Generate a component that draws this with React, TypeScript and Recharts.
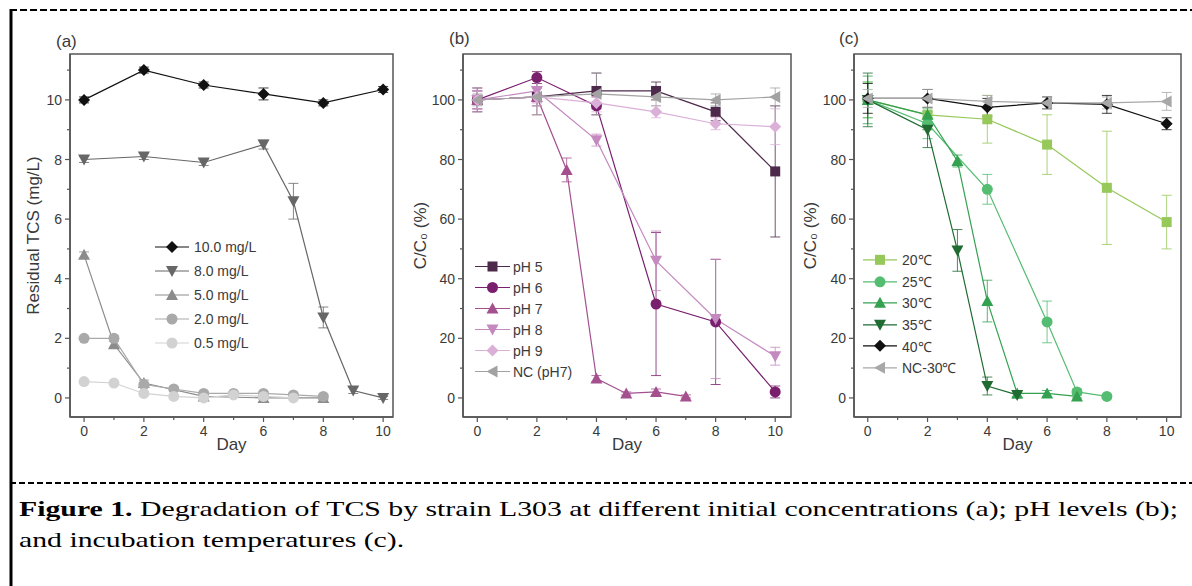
import React from 'react';
import { LineChart, Line, XAxis, YAxis, ErrorBar, ReferenceArea, Legend } from 'recharts';

const AXIS = '#555';
const TEXT = '#3a3a3a';
const SANS = '"Liberation Sans", Arial, sans-serif';

const dayTicks = [0, 1, 2, 3, 4, 5, 6, 7, 8, 9, 10];
const concTicks = [0, 1, 2, 3, 4, 5, 6, 7, 8, 9, 10, 11];
const pctTicks = [0, 10, 20, 30, 40, 50, 60, 70, 80, 90, 100, 110];

// (a) initial concentration
const a10Days = [0, 2, 4, 6, 8, 10];
const a10Vals = [10.0, 11.0, 10.5, 10.2, 9.9, 10.35];
const a10Errs = [0.1, 0.1, 0.1, 0.2, 0.1, 0.1];
const a8Days = [0, 2, 4, 6, 7, 8, 9, 10];
const a8Vals = [8.0, 8.1, 7.9, 8.5, 6.6, 2.7, 0.25, 0.0];
const a8Errs = [0.1, 0.1, 0.1, 0.15, 0.6, 0.35, 0.1, 0.05];
const a5Days = [0, 1, 2, 4, 6, 8];
const a5Vals = [4.8, 1.8, 0.5, 0.05, 0.0, 0.0];
const a5Errs = [0.1, 0.1, 0.1, 0.05, 0.05, 0.05];
const a2Days = [0, 1, 2, 3, 4, 5, 6, 7, 8];
const a2Vals = [2.0, 2.0, 0.45, 0.3, 0.15, 0.15, 0.15, 0.1, 0.05];
const a2Errs = [0.05, 0.1, 0.05, 0.05, 0.05, 0.05, 0.05, 0.05, 0.05];
const a05Days = [0, 1, 2, 3, 4, 5, 6, 7];
const a05Vals = [0.55, 0.5, 0.15, 0.05, 0.0, 0.1, 0.05, 0.0];
const a05Errs = [0.05, 0.05, 0.05, 0.05, 0.05, 0.05, 0.05, 0.05];

// (b) pH
const bDays = [0, 2, 4, 6, 8, 10];
const pH5Vals = [100, 101, 103, 103, 96, 76];
const pH5Errs = [4, 3, 6, 3, 3, 22];
const pH6Vals = [100, 107.5, 98, 31.5, 25.5, 2];
const pH6Errs = [3, 2, 3, 24, 21, 2];
const pH7Days = [0, 2, 3, 4, 5, 6, 7];
const pH7Vals = [100, 101, 76.5, 6.5, 1.5, 2, 0.5];
const pH7Errs = [3, 6, 4, 1, 0.5, 1, 0.5];
const pH8Vals = [100, 103, 86.5, 46, 26.5, 14];
const pH8Errs = [4, 4, 2, 10, 20, 3];
const pH9Vals = [100, 101, 99, 96, 92, 91];
const pH9Errs = [3, 3, 3, 2, 2, 6];
const ncpHVals = [100, 101, 102, 101, 100, 101];
const ncpHErrs = [2, 6, 7, 3, 2, 3];

// (c) temperature
const cDays = [0, 2, 4, 6, 8, 10];
const t20Vals = [100, 95, 93.5, 85, 70.5, 59];
const t20Errs = [6, 5, 8, 10, 19, 9];
const t25Days = [0, 2, 4, 6, 7, 8];
const t25Vals = [100, 92, 70, 25.5, 2, 0.5];
const t25Errs = [6, 5, 5, 7, 1, 0.5];
const t30Days = [0, 2, 3, 4, 5, 6, 7];
const t30Vals = [100, 95, 79.5, 32.5, 1.5, 1.5, 0.5];
const t30Errs = [8, 5, 2, 7, 1, 1, 0.5];
const t35Days = [0, 2, 3, 4, 5];
const t35Vals = [100, 90, 49.5, 4, 1];
const t35Errs = [9, 6, 7, 3, 1];
const t40Vals = [100.5, 100.5, 97.5, 99, 98.5, 92];
const t40Errs = [5, 3, 3, 2, 3, 2];
const ncTVals = [100.5, 100.5, 99.5, 99, 99, 99.5];
const ncTErrs = [3, 3, 2, 2, 2, 3];

type Shape = 'diamond' | 'square' | 'circle' | 'up' | 'down' | 'left';
type Series = { name: string; color: string; shape: Shape; days: number[]; vals: number[]; errs: number[] };

const seriesA: Series[] = [
  { name: '10.0 mg/L', color: '#111', shape: 'diamond', days: a10Days, vals: a10Vals, errs: a10Errs },
  { name: '8.0 mg/L', color: '#676767', shape: 'down', days: a8Days, vals: a8Vals, errs: a8Errs },
  { name: '5.0 mg/L', color: '#8c8c8c', shape: 'up', days: a5Days, vals: a5Vals, errs: a5Errs },
  { name: '2.0 mg/L', color: '#a9a9a9', shape: 'circle', days: a2Days, vals: a2Vals, errs: a2Errs },
  { name: '0.5 mg/L', color: '#d2d2d2', shape: 'circle', days: a05Days, vals: a05Vals, errs: a05Errs },
];

const seriesB: Series[] = [
  { name: 'pH 5', color: '#4d2a4b', shape: 'square', days: bDays, vals: pH5Vals, errs: pH5Errs },
  { name: 'pH 6', color: '#7a1f6e', shape: 'circle', days: bDays, vals: pH6Vals, errs: pH6Errs },
  { name: 'pH 7', color: '#a4508f', shape: 'up', days: pH7Days, vals: pH7Vals, errs: pH7Errs },
  { name: 'pH 8', color: '#c48ac0', shape: 'down', days: bDays, vals: pH8Vals, errs: pH8Errs },
  { name: 'pH 9', color: '#dbb0d8', shape: 'diamond', days: bDays, vals: pH9Vals, errs: pH9Errs },
  { name: 'NC (pH7)', color: '#a2a2a2', shape: 'left', days: bDays, vals: ncpHVals, errs: ncpHErrs },
];

const seriesC: Series[] = [
  { name: '20℃', color: '#96c85a', shape: 'square', days: cDays, vals: t20Vals, errs: t20Errs },
  { name: '25℃', color: '#55bd72', shape: 'circle', days: t25Days, vals: t25Vals, errs: t25Errs },
  { name: '30℃', color: '#33a150', shape: 'up', days: t30Days, vals: t30Vals, errs: t30Errs },
  { name: '35℃', color: '#1f6b32', shape: 'down', days: t35Days, vals: t35Vals, errs: t35Errs },
  { name: '40℃', color: '#111', shape: 'diamond', days: cDays, vals: t40Vals, errs: t40Errs },
  { name: 'NC-30℃', color: '#a8a8a8', shape: 'left', days: cDays, vals: ncTVals, errs: ncTErrs },
];

function Marker({ cx, cy, shape, color }: { cx: number; cy: number; shape: Shape; color: string }) {
  if (cx == null || cy == null || isNaN(cx) || isNaN(cy)) return null;
  const s = 6;
  switch (shape) {
    case 'diamond':
      return <polygon points={`${cx},${cy - s} ${cx + s},${cy} ${cx},${cy + s} ${cx - s},${cy}`} fill={color} />;
    case 'square':
      return <rect x={cx - 5} y={cy - 5} width={10} height={10} fill={color} />;
    case 'circle':
      return <circle cx={cx} cy={cy} r={5.5} fill={color} />;
    case 'up':
      return <polygon points={`${cx},${cy - s} ${cx + s},${cy + 5} ${cx - s},${cy + 5}`} fill={color} />;
    case 'down':
      return <polygon points={`${cx},${cy + s} ${cx + s},${cy - 5} ${cx - s},${cy - 5}`} fill={color} />;
    default:
      return <polygon points={`${cx - s},${cy} ${cx + 5},${cy - s} ${cx + 5},${cy + s}`} fill={color} />;
  }
}

function XTick(props: any) {
  const { x, y, payload } = props;
  const major = payload.value % 2 === 0;
  return (
    <g>
      <line x1={x} x2={x} y1={y} y2={y + (major ? 5 : 3)} stroke={AXIS} strokeWidth={1.2} />
      {major && (
        <text x={x} y={y + 19} textAnchor="middle" fontSize={14} fontFamily={SANS} fill={TEXT}>
          {payload.value}
        </text>
      )}
    </g>
  );
}

function YTick(props: any) {
  const { x, y, payload, step } = props;
  const major = payload.value % step === 0;
  return (
    <g>
      <line x1={x} x2={x - (major ? 5 : 3)} y1={y} y2={y} stroke={AXIS} strokeWidth={1.2} />
      {major && (
        <text x={x - 8} y={y + 5} textAnchor="end" fontSize={14} fontFamily={SANS} fill={TEXT}>
          {payload.value}
        </text>
      )}
    </g>
  );
}

function XLabel(props: any) {
  const { viewBox } = props;
  const cx = viewBox.x + viewBox.width / 2;
  return (
    <text x={cx} y={viewBox.y + 33} textAnchor="middle" fontSize={17} fontFamily={SANS} fill={TEXT}>
      Day
    </text>
  );
}

function YLabel(props: any) {
  const { viewBox, text, off } = props;
  const cx = viewBox.x + viewBox.width - off;
  const cy = viewBox.y + viewBox.height / 2;
  return (
    <text x={cx} y={cy} transform={`rotate(-90 ${cx} ${cy})`} textAnchor="middle" dominantBaseline="central" fontSize={17} fontFamily={SANS} fill={TEXT}>
      {text}
    </text>
  );
}

function LegendBox({ series, rowH, lineW, gap }: { series: Series[]; rowH: number; lineW: number; gap: number }) {
  return (
    <div style={{ fontFamily: SANS, fontSize: 14, color: TEXT }}>
      {series.map((s) => (
        <div key={s.name} style={{ display: 'flex', alignItems: 'center', height: rowH, whiteSpace: 'nowrap' }}>
          <svg width={lineW} height={rowH} style={{ display: 'block' }}>
            <line x1={0} x2={lineW} y1={rowH / 2} y2={rowH / 2} stroke={s.color} strokeWidth={1.2} />
            <Marker cx={lineW / 2} cy={rowH / 2} shape={s.shape} color={s.color} />
          </svg>
          <span style={{ marginLeft: gap }}>{s.name}</span>
        </div>
      ))}
    </div>
  );
}

type PanelProps = {
  left: number;
  width: number;
  margin: { top: number; right: number; bottom: number; left: number };
  xDomain: [number, number];
  yDomain: [number, number];
  yTicks: number[];
  yStep: number;
  yLabel: string;
  yLabelOff: number;
  series: Series[];
  legend: { left: number; top: number; rowH: number; lineW: number; gap: number };
};

function Panel(p: PanelProps) {
  return (
    <div style={{ position: 'absolute', left: p.left, top: 0 }}>
      <LineChart width={p.width} height={480} margin={p.margin}>
        <XAxis
          type="number"
          dataKey="day"
          domain={p.xDomain}
          ticks={dayTicks}
          allowDataOverflow
          interval={0}
          tick={<XTick />}
          tickLine={false}
          tickSize={0}
          tickMargin={0}
          axisLine={{ stroke: AXIS, strokeWidth: 1.5 }}
          height={40}
          label={<XLabel />}
        />
        <YAxis
          type="number"
          domain={p.yDomain}
          ticks={p.yTicks}
          allowDataOverflow
          interval={0}
          tick={<YTick step={p.yStep} />}
          tickLine={false}
          tickSize={0}
          tickMargin={0}
          axisLine={{ stroke: AXIS, strokeWidth: 1.5 }}
          width={50}
          label={<YLabel text={p.yLabel} off={p.yLabelOff} />}
        />
        <ReferenceArea
          x1={p.xDomain[0]}
          x2={p.xDomain[1]}
          y1={p.yDomain[0]}
          y2={p.yDomain[1]}
          fill="none"
          fillOpacity={0}
          stroke={AXIS}
          strokeWidth={1.5}
        />
        {p.series.map((s) => (
          <Line
            key={s.name}
            name={s.name}
            data={s.days.map((d, i) => ({ day: d, v: s.vals[i], err: s.errs[i] }))}
            dataKey="v"
            type="linear"
            stroke={s.color}
            strokeWidth={1.2}
            isAnimationActive={false}
            dot={(d: any) => <Marker key={`${s.name}-${d.index}`} cx={d.cx} cy={d.cy} shape={s.shape} color={s.color} />}
            activeDot={false}
          >
            <ErrorBar dataKey="err" width={5} stroke={s.color} strokeOpacity={0.8} strokeWidth={1} direction="y" />
          </Line>
        ))}
        <Legend
          layout="vertical"
          align="center"
          verticalAlign="middle"
          content={<LegendBox series={p.series} rowH={p.legend.rowH} lineW={p.legend.lineW} gap={p.legend.gap} />}
          wrapperStyle={{ left: p.legend.left, top: p.legend.top, width: 'auto', height: 'auto' }}
        />
      </LineChart>
    </div>
  );
}

const titleStyle: React.CSSProperties = {
  position: 'absolute',
  fontFamily: SANS,
  fontSize: 17,
  color: TEXT,
};

export default function App() {
  return (
    <div style={{ position: 'absolute', left: 0, top: 0, width: 1192, height: 586, background: '#fff', overflow: 'hidden' }}>
      <svg width={1192} height={586} style={{ position: 'absolute', left: 0, top: 0 }}>
        <line x1={10} x2={1192} y1={10} y2={10} stroke="#000" strokeWidth={2} strokeDasharray="7 3" />
        <line x1={10} x2={1192} y1={483} y2={483} stroke="#000" strokeWidth={2} strokeDasharray="6 3" />
        <line x1={11} x2={11} y1={9} y2={586} stroke="#000" strokeWidth={3} />
      </svg>

      <Panel
        left={0}
        width={420}
        margin={{ top: 54, right: 27, bottom: 23, left: 20 }}
        xDomain={[-0.47, 10.33]}
        yDomain={[-0.64, 11.54]}
        yTicks={concTicks}
        yStep={2}
        yLabel="Residual TCS (mg/L)"
        yLabelOff={37}
        series={seriesA}
        legend={{ left: 155, top: 235, rowH: 24, lineW: 34, gap: 5 }}
      />
      <Panel
        left={400}
        width={410}
        margin={{ top: 54, right: 19, bottom: 23, left: 13 }}
        xDomain={[-0.48, 10.53]}
        yDomain={[-6.4, 115.4]}
        yTicks={pctTicks}
        yStep={20}
        yLabel="C/C₀ (%)"
        yLabelOff={43}
        series={seriesB}
        legend={{ left: 75, top: 256, rowH: 21, lineW: 35, gap: 3 }}
      />
      <Panel
        left={790}
        width={402}
        margin={{ top: 54, right: 11, bottom: 23, left: 14 }}
        xDomain={[-0.46, 10.48]}
        yDomain={[-6.4, 115.4]}
        yTicks={pctTicks}
        yStep={20}
        yLabel="C/C₀ (%)"
        yLabelOff={44}
        series={seriesC}
        legend={{ left: 73, top: 249, rowH: 21.6, lineW: 34, gap: 5 }}
      />

      <div style={{ ...titleStyle, left: 56, top: 32 }}>(a)</div>
      <div style={{ ...titleStyle, left: 449, top: 29 }}>(b)</div>
      <div style={{ ...titleStyle, left: 839, top: 29 }}>(c)</div>

      <div
        style={{
          position: 'absolute',
          left: 19,
          top: 493,
          fontFamily: '"Liberation Serif", "Times New Roman", serif',
          fontSize: 22,
          lineHeight: '31px',
          color: '#000',
          whiteSpace: 'nowrap',
          transform: 'scaleX(1.353)',
          transformOrigin: '0 0',
        }}
      >
        <b>Figure 1.</b> Degradation of TCS by strain L303 at different initial concentrations (a); pH levels (b);
        <br />
        and incubation temperatures (c).
      </div>
    </div>
  );
}
